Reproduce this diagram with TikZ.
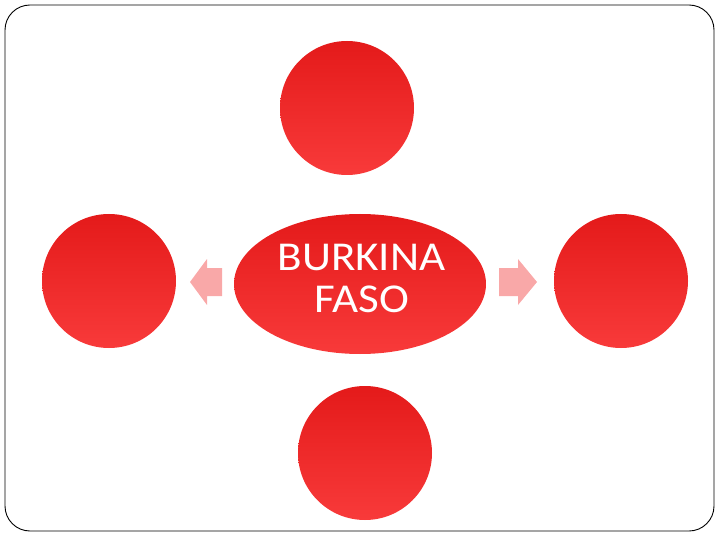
\documentclass[tikz,border=0pt]{standalone}
\usepackage{fontspec}
\setmainfont{Carlito}
\usetikzlibrary{shapes.geometric}
\definecolor{rtop}{HTML}{E41A1A}
\definecolor{rbot}{HTML}{F83A3A}
\definecolor{arrowpink}{HTML}{F9A8A8}
\tikzset{
  bubble/.style={circle, minimum size=134pt, inner sep=0pt, top color=rtop, bottom color=rbot, draw=none},
  centre/.style={ellipse, minimum width=252pt, minimum height=140pt, inner sep=0pt, top color=rtop, bottom color=rbot, draw=none},
  blockarrow/.style={fill=arrowpink, draw=none},
}
\begin{document}
\begin{tikzpicture}[x=1pt,y=-1pt]
\useasboundingbox (0,0) rectangle (720,540);
\draw[line width=0.9pt, rounded corners=25pt] (5,5) rectangle (714,531);
\node[bubble] (top) at (347,108) {};
\node[bubble] (left) at (109,281) {};
\node[bubble] (right) at (621,281) {};
\node[bubble] (bottom) at (365,453) {};
\node[centre] (c) at (360,284) {};
\node[text=white, font=\fontsize{41}{42}\selectfont, align=center, anchor=base, inner sep=0pt, xscale=1.1] (lbl) at (361.5,312) {BURKINA\\FASO};
% left block arrow
\fill[blockarrow] (190,282) -- (207,259) -- (207,268) -- (222,268) -- (222,296) -- (207,296) -- (207,305) -- cycle;
% right block arrow
\fill[blockarrow] (537,282) -- (518,259) -- (518,268) -- (499,268) -- (499,296) -- (518,296) -- (518,305) -- cycle;
\end{tikzpicture}
\end{document}
